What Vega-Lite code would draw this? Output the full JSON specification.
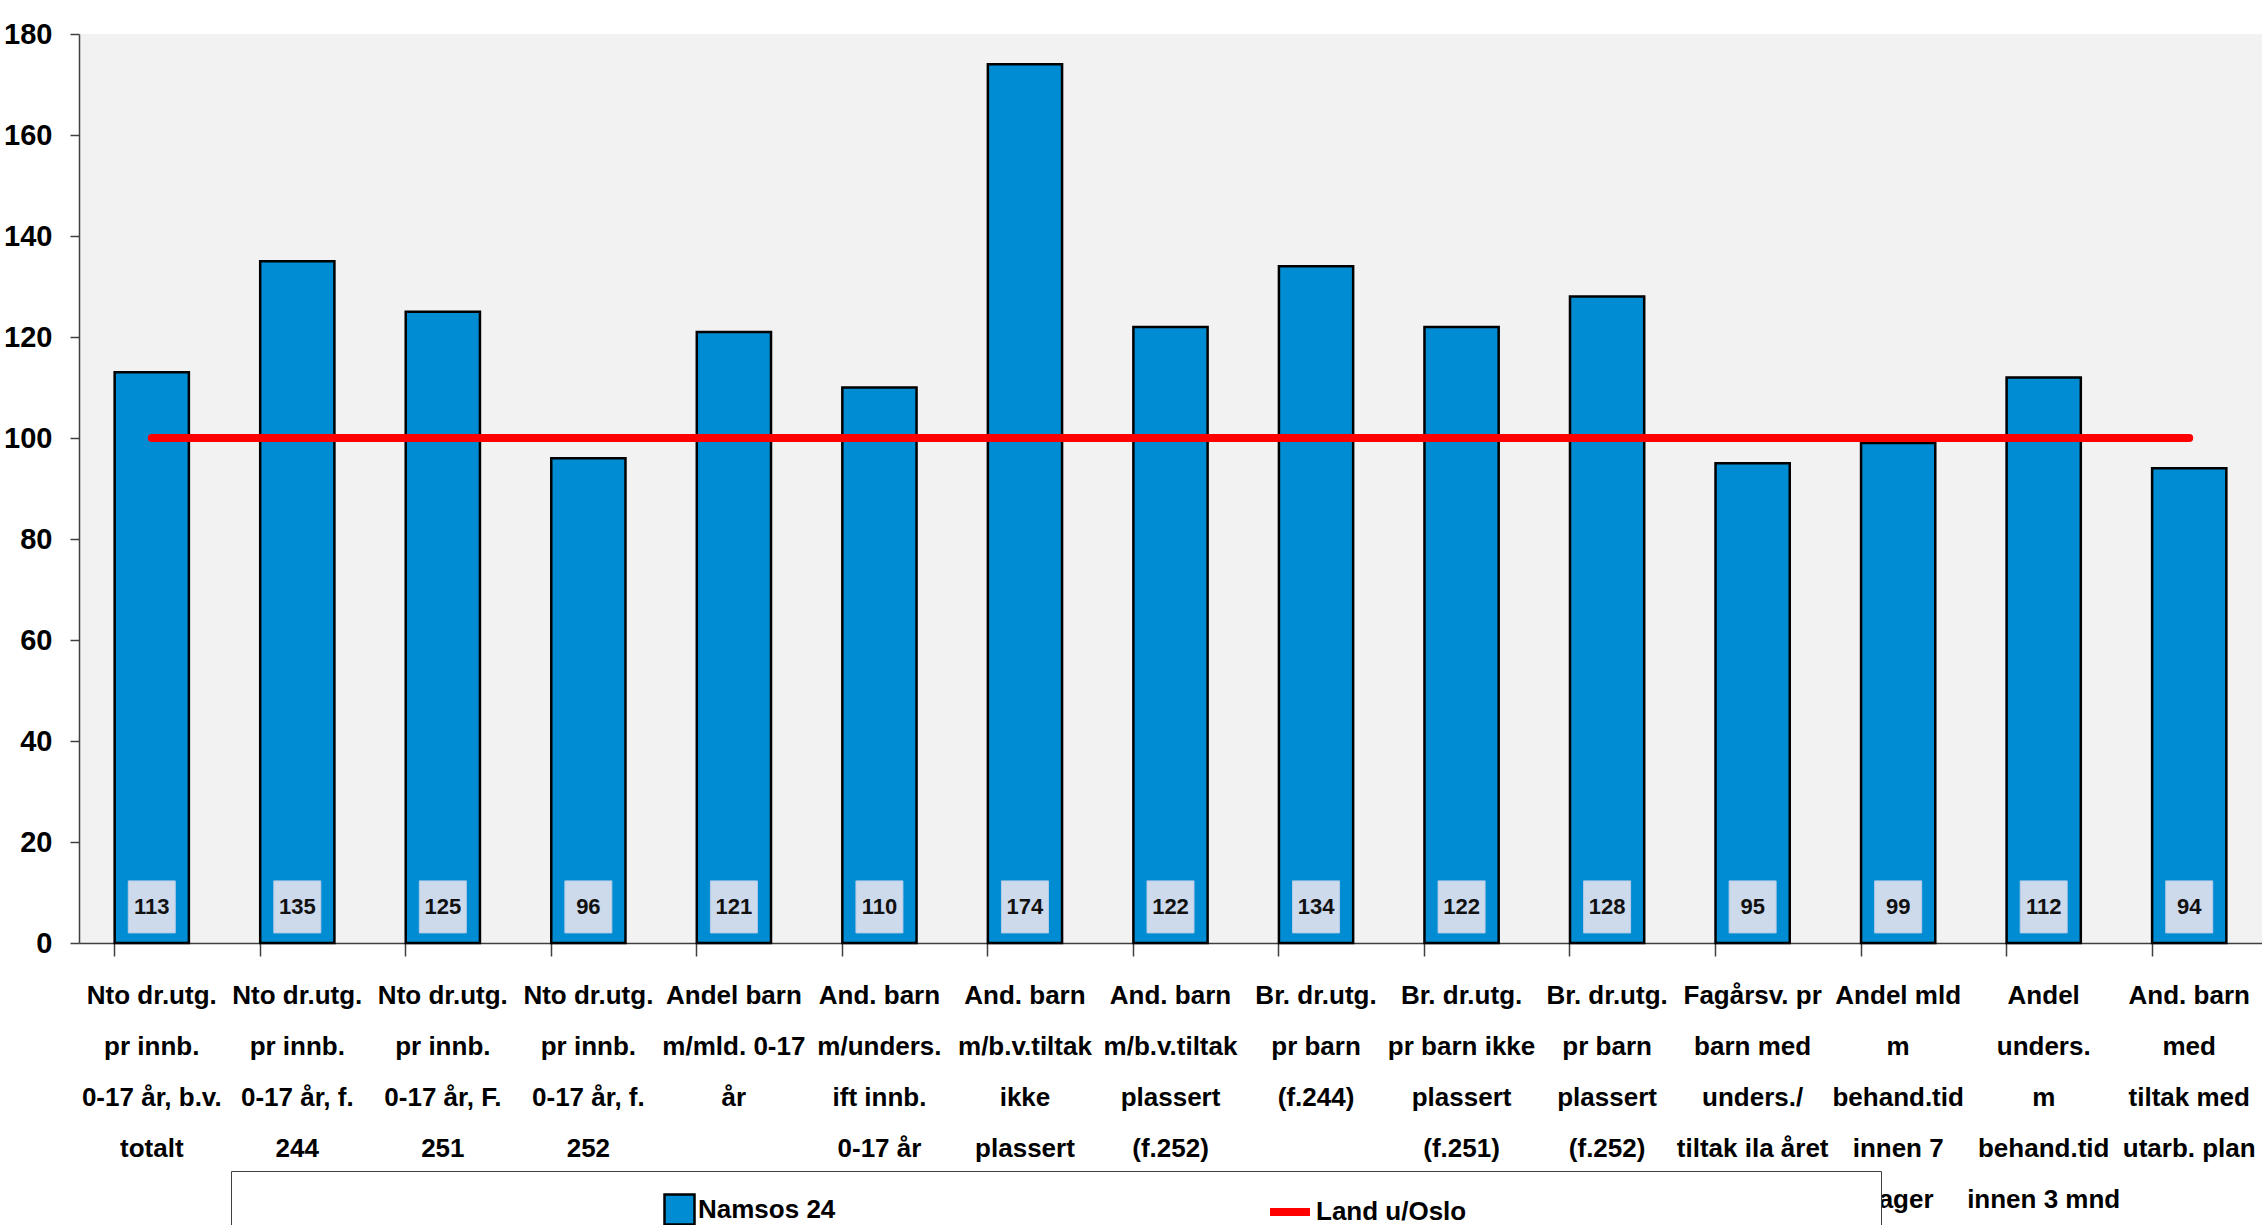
{
  "$schema": "https://vega.github.io/schema/vega-lite/v6.json",
  "width": 2183,
  "height": 909,
  "autosize": {"type": "none"},
  "padding": {"left": 79, "top": 34, "right": 0, "bottom": 282},
  "background": "white",
  "config": {
    "view": {"fill": "#F2F2F2", "stroke": null},
    "font": "Liberation Sans",
    "axis": {
      "labelFont": "Liberation Sans",
      "labelFontWeight": "bold",
      "labelColor": "#000000",
      "domainColor": "#404040",
      "tickColor": "#404040",
      "grid": false,
      "titleFontSize": 1
    },
    "legend": {"titleLimit": 3000, "labelLimit": 0}
  },
  "data": {
    "values": [
      {"indikator": "Nto dr.utg.|pr innb.|0-17 år, b.v.|totalt", "verdi": 113, "land": 100},
      {"indikator": "Nto dr.utg.|pr innb.|0-17 år, f.|244", "verdi": 135, "land": 100},
      {"indikator": "Nto dr.utg.|pr innb.|0-17 år, F.|251", "verdi": 125, "land": 100},
      {"indikator": "Nto dr.utg.|pr innb.|0-17 år, f.|252", "verdi": 96, "land": 100},
      {"indikator": "Andel barn|m/mld. 0-17|år", "verdi": 121, "land": 100},
      {"indikator": "And. barn|m/unders.|ift innb.|0-17 år", "verdi": 110, "land": 100},
      {"indikator": "And. barn|m/b.v.tiltak|ikke|plassert", "verdi": 174, "land": 100},
      {"indikator": "And. barn|m/b.v.tiltak|plassert|(f.252)", "verdi": 122, "land": 100},
      {"indikator": "Br. dr.utg.|pr barn|(f.244)", "verdi": 134, "land": 100},
      {"indikator": "Br. dr.utg.|pr barn ikke|plassert|(f.251)", "verdi": 122, "land": 100},
      {"indikator": "Br. dr.utg.|pr barn|plassert|(f.252)", "verdi": 128, "land": 100},
      {"indikator": "Fagårsv. pr|barn med|unders./|tiltak ila året", "verdi": 95, "land": 100},
      {"indikator": "Andel mld|m|behand.tid|innen 7|dager", "verdi": 99, "land": 100},
      {"indikator": "Andel|unders.|m|behand.tid|innen 3 mnd", "verdi": 112, "land": 100},
      {"indikator": "And. barn|med|tiltak med|utarb. plan", "verdi": 94, "land": 100}
    ]
  },
  "encoding": {
    "x": {
      "field": "indikator",
      "type": "nominal",
      "sort": null,
      "title": null,
      "scale": {"paddingInner": 0.49, "paddingOuter": 0.245},
      "axis": {
        "labelExpr": "split(datum.label, '|')",
        "labelAngle": 0,
        "labelAlign": "center",
        "labelBaseline": "top",
        "labelFontSize": 26,
        "labelLineHeight": 51,
        "labelPadding": 26,
        "labelOverlap": false,
        "labelLimit": 0,
        "bandPosition": 0,
        "tickSize": 13,
        "domainWidth": 1.5,
        "tickWidth": 1.5
      }
    }
  },
  "layer": [
    {
      "mark": {"type": "bar", "stroke": "#000000", "strokeWidth": 2.5},
      "encoding": {
        "y": {
          "field": "verdi",
          "type": "quantitative",
          "title": null,
          "scale": {"domain": [0, 180], "nice": false},
          "axis": {
            "values": [0, 20, 40, 60, 80, 100, 120, 140, 160, 180],
            "labelFontSize": 29,
            "labelPadding": 18,
            "tickSize": 9,
            "domainWidth": 1.5,
            "tickWidth": 1.5
          }
        },
        "fill": {
          "datum": "Namsos 24",
          "scale": {"domain": ["Namsos 24"], "range": ["#008CD2"]},
          "legend": {
            "orient": "none",
            "legendX": 152,
            "legendY": 1137,
            "direction": "horizontal",
            "fillColor": "#FFFFFF",
            "strokeColor": "#404040",
            "padding": 22,
            "symbolOffset": 410,
            "symbolType": "square",
            "symbolSize": 900,
            "symbolStrokeColor": "#000000",
            "symbolStrokeWidth": 2.5,
            "symbolOpacity": 1,
            "labelFont": "Liberation Sans",
            "labelFontWeight": "bold",
            "labelFontSize": 26,
            "labelColor": "#000000",
            "labelOffset": 2,
            "labelLimit": 0,
            "title": "\u2003\u2003\u2003\u2003\u2003\u2003\u2003\u2003\u2003\u2003\u2003\u2003\u2003\u2003\u2003\u2003\u2003\u2003\u2003\u2003\u2003\u2003\u2003\u2003\u2003\u2003\u2003\u2003\u2003\u2003\u2003\u2003\u2003\u2003\u2003\u2003\u2003\u2003\u2003\u2003",
            "titleOrient": "right",
            "titleFontSize": 25,
            "titleLimit": 3000,
            "titleColor": "#FFFFFF",
            "titlePadding": 1024
          }
        }
      }
    },
    {
      "mark": {"type": "bar", "width": 47, "fill": "#CDDAEC", "stroke": "#B5CBE8", "strokeWidth": 1},
      "encoding": {
        "y": {"datum": 2},
        "y2": {"datum": 12.3}
      }
    },
    {
      "mark": {"type": "text", "font": "Liberation Sans", "fontWeight": "bold", "fontSize": 22, "color": "#111111", "baseline": "middle", "align": "center"},
      "encoding": {
        "y": {"datum": 7.1},
        "text": {"field": "verdi", "type": "quantitative"}
      }
    },
    {
      "mark": {"type": "line", "strokeWidth": 8, "strokeCap": "round"},
      "encoding": {
        "y": {"field": "land", "type": "quantitative", "title": null},
        "stroke": {
          "datum": "Land u/Oslo",
          "scale": {"domain": ["Land u/Oslo"], "range": ["#FF0000"]},
          "legend": {
            "orient": "none",
            "legendX": 1165,
            "legendY": 1132,
            "direction": "horizontal",
            "fillColor": null,
            "strokeColor": null,
            "padding": 22,
            "symbolType": "stroke",
            "symbolSize": 1600,
            "symbolStrokeWidth": 8,
            "symbolOpacity": 1,
            "labelFont": "Liberation Sans",
            "labelFontWeight": "bold",
            "labelFontSize": 26,
            "labelColor": "#000000",
            "labelOffset": 2,
            "labelLimit": 0,
            "title": null
          }
        }
      }
    }
  ]
}
